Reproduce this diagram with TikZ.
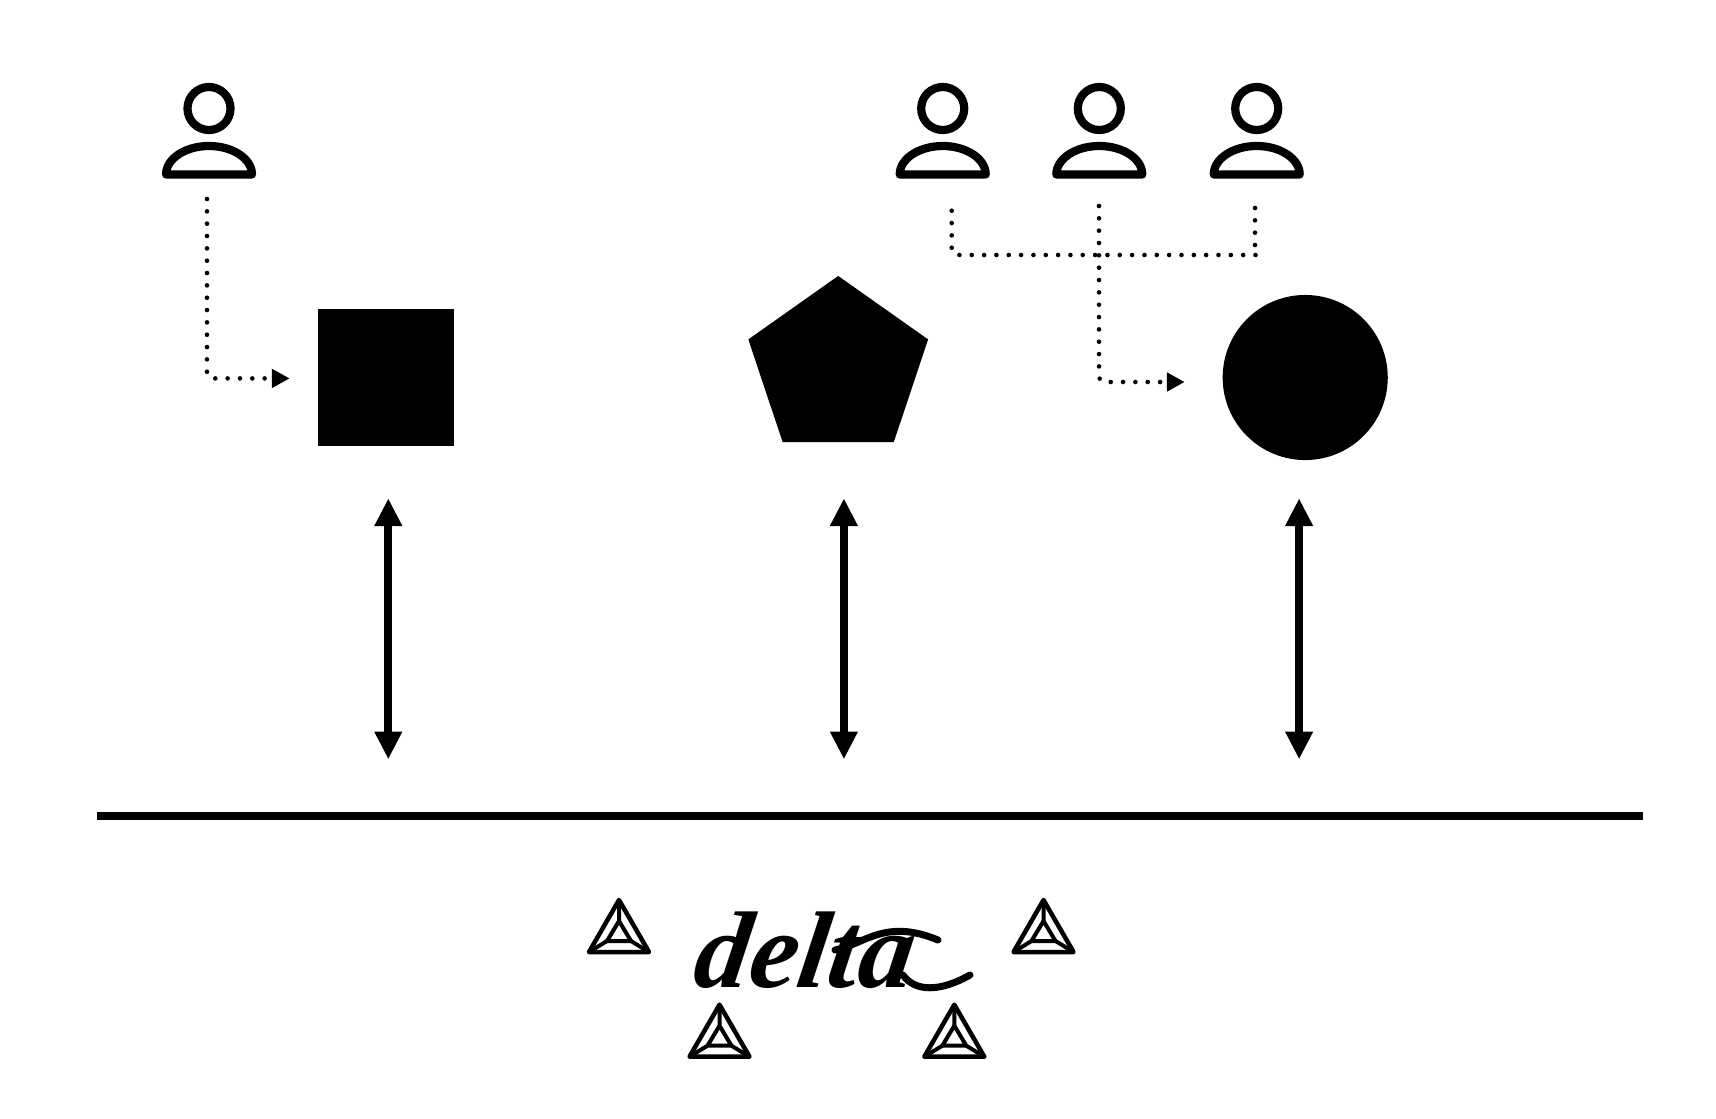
\documentclass[tikz,border=0pt]{standalone}
\usepackage{fontspec}
\usepackage{tikz}
\usetikzlibrary{positioning, shapes.geometric, arrows.meta}
\newfontfamily\logofont[FakeSlant=0.15]{Liberation Serif}

\tikzset{
	pics/person/.style={code={
		\node[circle,draw=black,line width=0.082cm,minimum size=0.43cm,inner sep=0pt](-head) at (0,-66){};
		\draw[line width=0.082cm,line join=round] (-43,0) arc[start angle=180,end angle=360,x radius=43,y radius=28.5] -- cycle;
	}},
	pics/prism/.style={code={
		\draw[line width=0.045cm,line join=round] (0,0) -- (-30,52) -- (30,52) -- cycle;
		\draw[line width=0.04cm,line join=round] (0,21) -- (-12,41) -- (12,41) -- cycle;
		\draw[line width=0.04cm] (0,0) -- (0,21) (-30,52) -- (-12,41) (30,52) -- (12,41);
	}}
}

\begin{document}
\begin{tikzpicture}[x=0.01cm,y=-0.01cm]
	\tikzstyle{shapenode}=[fill=black,inner sep=0pt,outer sep=0pt]
	\tikzstyle{dotline}=[line width=0.046cm,line cap=round,dash pattern=on 0pt off 0.1233cm,rounded corners=0.06cm]
	\tikzstyle{dotarrow}=[dotline,-{Triangle[length=0.178cm,width=0.18cm]}]
	\tikzstyle{bothway}=[line width=0.078cm,{Triangle[length=0.277cm,width=0.26cm]}-{Triangle[length=0.277cm,width=0.26cm]}]
	\tikzstyle{swash}=[line width=0.07cm,line cap=round]
	\useasboundingbox (0,0) rectangle (1716,1118);
	% users
	\pic(userA) at (209,174.5){person};
	\pic(userB) at (942.7,174.5){person};
	\pic(userC) at (1099.3,174.5){person};
	\pic(userD) at (1256.7,174.5){person};
	% shapes
	\node[shapenode,minimum size=1.36cm](square) at (386,377.5){};
	\node[shapenode,regular polygon,regular polygon sides=5,minimum size=1.836cm,xscale=1.029,transform shape](penta) at (838.2,367.8){};
	\node[shapenode,circle,minimum size=1.65cm](disc) at (1305.2,377.5){};
	% dotted lines
	\coordinate(startA) at (207,199);
	\coordinate(startB) at (951.7,210.7);
	\coordinate(startC) at (1099,206);
	\coordinate(startD) at (1255,208);
	\coordinate(joinB) at (951.7,255);
	\coordinate(joinD) at (1255,255);
	\coordinate(endB) at (1258,255);
	\coordinate(tipA) at (289.7,378.4);
	\coordinate(tipC) at (1184.7,382);
	\draw[dotarrow] (startA) |- (tipA);
	\draw[dotarrow] (startC) |- (tipC);
	\draw[dotline] (startB) -- (joinB) -- (endB);
	\draw[dotline,rounded corners=0pt] (startD) -- (joinD);
	% arrows to the line
	\coordinate(lineL) at (97,816);
	\coordinate(lineR) at (1643,816);
	\draw[line width=0.085cm] (lineL) -- (lineR);
	\foreach \name/\x in {A/388.3,B/843.9,C/1299.1}{
		\coordinate(up\name) at (\x,498.3);
		\coordinate(down\name) at (\x,759.3);
		\draw[bothway] (up\name) -- (down\name);
	}
	% bottom
	\pic(prismA) at (619,900){prism};
	\pic(prismB) at (1043.5,900){prism};
	\pic(prismC) at (719.5,1004.7){prism};
	\pic(prismD) at (954.3,1004.7){prism};
	\node[inner sep=0pt,anchor=base west](logo) at (691,987){\logofont\bfseries\itshape\fontsize{31}{31}\selectfont delta};
	\draw[swash] (835,950) .. controls (865,944) and (885,918) .. (938,940);
	\draw[swash] (903,975) .. controls (915,992) and (940,992) .. (970,975);
\end{tikzpicture}
\end{document}
